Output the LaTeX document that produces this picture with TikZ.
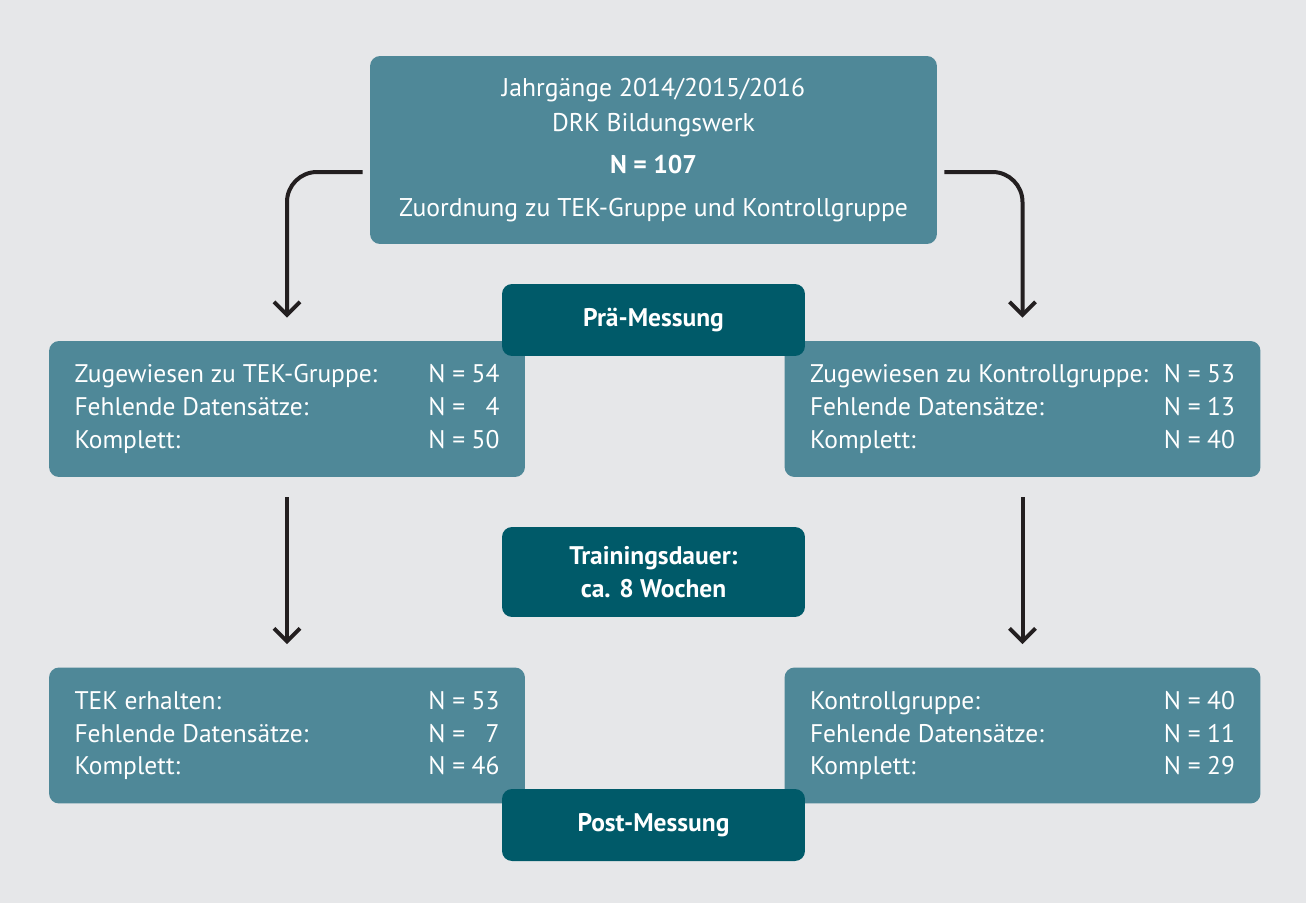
\documentclass[tikz,border=0pt]{standalone}
\usepackage{fontspec}
\setmainfont{PT Sans}
\usepackage{tikz}
\usetikzlibrary{arrows.meta}

\definecolor{bggray}{HTML}{E6E7E9}
\definecolor{lightteal}{HTML}{4F8898}
\definecolor{darkteal}{HTML}{005A69}
\definecolor{arrowblack}{HTML}{231F20}

\tikzset{
    groupbox/.style={fill=lightteal, rounded corners=0.2cm, text=white, inner sep=0pt,
        minimum width=9.52cm, minimum height=2.72cm, font=\fontsize{14.5}{18.7}\selectfont},
    phasebox/.style={fill=darkteal, rounded corners=0.2cm, text=white, inner sep=0pt,
        minimum width=6.06cm, minimum height=1.44cm, align=center,
        font=\fontsize{14.5}{18.5}\selectfont\bfseries},
    flowarrow/.style={draw=arrowblack, line width=0.08cm,
        -{Straight Barb[length=0.26cm, width=0.52cm, line width=0.08cm]}}
}

% label / value rows inside the group boxes
\newcommand{\countrow}[2]{#1 & \makebox[1.42cm][l]{N =\hfill\makebox[1.05em][r]{#2}}\\}
\newenvironment{counttable}{\begin{tabular}{@{}p{7.08cm}@{}l@{}}}{\end{tabular}}

\begin{document}
\begin{tikzpicture}[x=0.02cm, y=-0.02cm]
    %% background
    \fill[bggray] (0,0) rectangle (1306,903);

    %% top box
    \node[fill=lightteal, rounded corners=0.2cm, text=white, inner sep=0pt,
          minimum width=11.34cm, minimum height=3.76cm, align=center,
          font=\fontsize{14.6}{19.8}\selectfont] (jahrgang) at (653.5,150)
        {Jahrgänge 2014/2015/2016\\ DRK Bildungswerk\\[0.14cm]
         \textbf{N = 107}\\[0.16cm]
         Zuordnung zu TEK-Gruppe und Kontrollgruppe};

    %% groups before training
    \node[groupbox] (tekpre) at (287,409)
        {\begin{counttable}
         \countrow{Zugewiesen zu TEK-Gruppe:}{54}
         \countrow{Fehlende Datensätze:}{4}
         \countrow{Komplett:}{50}
         \end{counttable}};
    \node[groupbox] (kgpre) at (1022.5,409)
        {\begin{counttable}
         \countrow{Zugewiesen zu Kontrollgruppe:}{53}
         \countrow{Fehlende Datensätze:}{13}
         \countrow{Komplett:}{40}
         \end{counttable}};

    %% groups after training
    \node[groupbox] (tekpost) at (287,735.5)
        {\begin{counttable}
         \countrow{TEK erhalten:}{53}
         \countrow{Fehlende Datensätze:}{7}
         \countrow{Komplett:}{46}
         \end{counttable}};
    \node[groupbox] (kgpost) at (1022.5,735.5)
        {\begin{counttable}
         \countrow{Kontrollgruppe:}{40}
         \countrow{Fehlende Datensätze:}{11}
         \countrow{Komplett:}{29}
         \end{counttable}};

    %% phases (on top of the group boxes)
    \node[phasebox] (prae) at (653.5,320) {Prä-Messung};
    \node[phasebox, minimum height=1.8cm] (training) at (653.5,572) {Trainingsdauer:\\ ca. 8 Wochen};
    \node[phasebox] (post) at (653.5,825) {Post-Messung};

    %% arrows
    \draw[flowarrow, rounded corners=0.6cm, shorten >=0.46cm]
        ([shift={(-7,22)}]jahrgang.west) -| (tekpre.north);
    \draw[flowarrow, rounded corners=0.6cm, shorten >=0.46cm]
        ([shift={(7,22)}]jahrgang.east) -| (kgpre.north);
    \draw[flowarrow, shorten <=0.4cm, shorten >=0.46cm] (tekpre.south) -- (tekpost.north);
    \draw[flowarrow, shorten <=0.4cm, shorten >=0.46cm] (kgpre.south) -- (kgpost.north);
\end{tikzpicture}
\end{document}
